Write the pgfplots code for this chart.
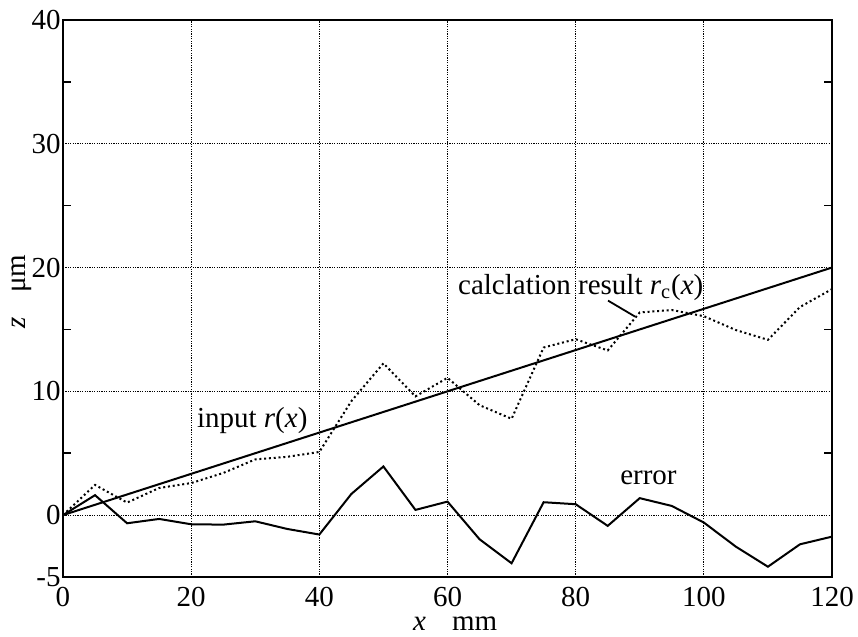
\documentclass[border=0pt]{standalone}
\usepackage{pgfplots}
\pgfplotsset{compat=1.18}
\usepackage{pgfplotstable}
\usepackage{fontspec}
\setmainfont{Liberation Serif}

% error = calculated profile minus input profile, sampled every 5 mm
\pgfplotstableread{
x    err    rc
0    0.00   0.00
5    1.61   2.44
10  -0.66   1.01
15  -0.31   2.19
20  -0.74   2.59
25  -0.77   3.40
30  -0.50   4.50
35  -1.12   4.71
40  -1.57   5.10
45   1.71   9.21
50   3.93  12.26
55   0.42   9.59
60   1.09  11.09
65  -1.95   8.88
70  -3.89   7.78
75   1.04  13.54
80   0.88  14.21
85  -0.87  13.30
90   1.37  16.37
95   0.74  16.57
100 -0.60  16.07
105 -2.55  14.95
110 -4.17  14.16
115 -2.36  16.81
120 -1.74  18.26
}\profile

\begin{document}
\begin{tikzpicture}[font=\fontsize{14.5}{17}\selectfont]
\begin{axis}[
  scale only axis,
  width=384.5pt, height=278.5pt,
  xmin=0, xmax=120, ymin=-5, ymax=40,
  xtick={0,20,40,60,80,100,120},
  xticklabels={0,20,40,60,80,100,120},
  ytick={-5,0,10,20,30,40},
  yticklabels={-5,0,10,20,30,40},
  minor ytick={5,15,25,35},
  grid=major,
  major grid style={black, line width=0.5pt, dash pattern=on 0.6pt off 0.6pt},
  axis line style={line width=1.4pt},
  tick style={black, line width=0.8pt},
  major tick length=0pt,
  minor tick length=4pt,
  tick align=inside,
  ytick pos=both,
  yticklabel style={inner sep=0pt, xshift=-1pt},
  xticklabel style={inner sep=0pt, yshift=-5pt},
  xlabel={\textit{x}\hspace{0.9em}mm},
  xlabel style={at={(axis description cs:0.51,-0.083)}, anchor=center},
  ylabel={\textit{z}\hspace{0.85em}μm},
  ylabel style={at={(axis description cs:-0.053,0.512)}, anchor=center},
]
% input profile r(x)
\addplot[black, line width=1pt] coordinates {(0,0) (120,20)};
% calculated profile r_c(x)
\addplot[black, line width=1pt, dash pattern=on 1pt off 1.4pt] table[x=x, y=rc] {\profile};
% error
\addplot[black, line width=1pt] table[x=x, y=err] {\profile};

\node[anchor=base west, inner sep=0pt] at (axis cs:61.6,17.82)
  {calclation result \textit{r}\textsubscript{\upshape c}(\textit{x})};
\draw[black, line width=0.9pt] (axis cs:85.05,17.33) -- (axis cs:89.26,16.04);
\node[anchor=base west, inner sep=0pt] at (axis cs:20.85,7.05) {input \textit{r}(\textit{x})};
\node[anchor=base west, inner sep=0pt] at (axis cs:86.9,2.44) {error};
\end{axis}
\path ([shift={(-31.5pt,-28.5pt)}]current axis.south west)
  rectangle ([shift={(13pt,10pt)}]current axis.north east);
\end{tikzpicture}
\end{document}
